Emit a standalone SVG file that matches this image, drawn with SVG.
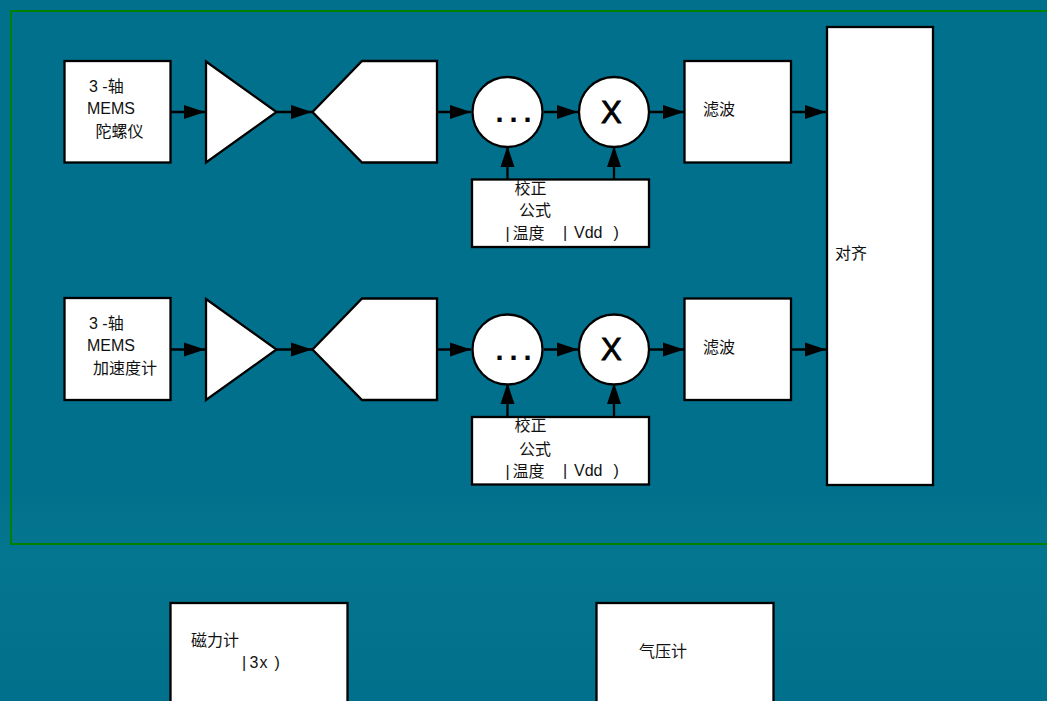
<svg xmlns="http://www.w3.org/2000/svg" width="1047" height="701" viewBox="0 0 1047 701">
<style>
.s{fill:#fff;stroke:#000;stroke-width:2.300}
.c{fill:none;stroke:#000;stroke-width:2.300}
text{font-family:"Liberation Sans","Noto Sans CJK SC",sans-serif;font-size:16px;fill:#111;white-space:pre}
.x{font-size:31px;fill:#000;stroke:#000;stroke-width:0.900}
.d{font-size:29px;fill:#000;letter-spacing:6px;font-weight:bold}
</style>
<defs>
<linearGradient id="bg" x1="0" y1="0" x2="0" y2="1">
<stop offset="0" stop-color="#00708c"/><stop offset="0.7" stop-color="#01708c"/><stop offset="0.79" stop-color="#057690"/><stop offset="0.9" stop-color="#03728d"/><stop offset="1" stop-color="#01708c"/>
</linearGradient>
<marker id="a" markerUnits="userSpaceOnUse" markerWidth="22" markerHeight="15" refX="21" refY="7.500" orient="auto"><path d="M0 0.500L21 7.500L0 14.500Z" fill="#000"/></marker>
</defs>
<rect width="1047" height="701" fill="url(#bg)"/>
<path id="frame" d="M1049 11H11V544H1049" fill="none" stroke="#008000" stroke-width="2"/>
<g id="connectors">
<path class="c" marker-end="url(#a)" d="M171 112H205"/>
<path class="c" marker-end="url(#a)" d="M276 112H312"/>
<path class="c" marker-end="url(#a)" d="M437 112H471"/>
<path class="c" marker-end="url(#a)" d="M544 112H578"/>
<path class="c" marker-end="url(#a)" d="M650 112H684"/>
<path class="c" marker-end="url(#a)" d="M791 112H826"/>
<path class="c" marker-end="url(#a)" d="M507.500 180V146"/>
<path class="c" marker-end="url(#a)" d="M614 180V146"/>
<path class="c" marker-end="url(#a)" d="M171 349.500H205"/>
<path class="c" marker-end="url(#a)" d="M276 349.500H312"/>
<path class="c" marker-end="url(#a)" d="M437 349.500H471"/>
<path class="c" marker-end="url(#a)" d="M544 349.500H578"/>
<path class="c" marker-end="url(#a)" d="M650 349.500H684"/>
<path class="c" marker-end="url(#a)" d="M791 349.500H826"/>
<path class="c" marker-end="url(#a)" d="M507.500 417V383"/>
<path class="c" marker-end="url(#a)" d="M614 417V383"/>
</g>
<g id="gyro"><rect class="s" x="64.500" y="61" width="106" height="101.500"/>
<text x="89" y="92">3 -轴</text><text x="87" y="114">MEMS</text><text x="95.500" y="137">陀螺仪</text></g>
<g id="amp1"><path class="s" d="M206 61.500L276.500 112L206 162.500Z"/></g>
<g id="adc1"><path class="s" d="M312.500 112L362 61H437V162.500H362Z"/></g>
<g id="sum1"><circle class="s" cx="507.500" cy="112" r="35"/><text class="d" x="495.500" y="122">...</text></g>
<g id="mul1"><circle class="s" cx="614" cy="112" r="35"/><text class="x" x="601" y="122.500">X</text></g>
<g id="filter1"><rect class="s" x="684.500" y="61" width="106.500" height="101.500"/><text x="703" y="115">滤波</text></g>
<g id="cal1"><rect class="s" x="472" y="179.500" width="177" height="67.500"/>
<text x="514.500" y="194">校正</text><text x="519" y="216">公式</text><text x="505.500" y="239">|</text><text x="512.500" y="239">温度</text><text x="563" y="238">|</text><text x="574" y="238">Vdd</text><text x="613.500" y="238">)</text></g>
<g id="accel"><rect class="s" x="64.500" y="298" width="106" height="102"/>
<text x="89" y="329">3 -轴</text><text x="87" y="351">MEMS</text><text x="93" y="374">加速度计</text></g>
<g id="amp2"><path class="s" d="M206 299L276.500 349.500L206 400Z"/></g>
<g id="adc2"><path class="s" d="M312.500 349.500L362 298.500H437V400H362Z"/></g>
<g id="sum2"><circle class="s" cx="507.500" cy="349.500" r="35"/><text class="d" x="495.500" y="359.500">...</text></g>
<g id="mul2"><circle class="s" cx="614" cy="349.500" r="35"/><text class="x" x="601" y="360">X</text></g>
<g id="filter2"><rect class="s" x="684.500" y="298.500" width="106.500" height="101.500"/><text x="703" y="353">滤波</text></g>
<g id="cal2"><rect class="s" x="472" y="417" width="177" height="67.500"/>
<text x="514.500" y="431">校正</text><text x="519" y="455">公式</text><text x="505.500" y="477">|</text><text x="512.500" y="477">温度</text><text x="563" y="476">|</text><text x="574" y="476">Vdd</text><text x="613.500" y="476">)</text></g>
<g id="align"><rect class="s" x="827" y="27" width="106" height="458"/><text x="835" y="259">对齐</text></g>
<g id="mag"><rect class="s" x="170.500" y="603" width="177" height="110"/><text x="191" y="646">磁力计</text><text x="242" y="668">|</text><text x="249.500" y="668" style="letter-spacing:1px">3x</text><text x="274.500" y="668">)</text></g>
<g id="baro"><rect class="s" x="596.500" y="603" width="177" height="110"/><text x="639" y="657">气压计</text></g>
</svg>
